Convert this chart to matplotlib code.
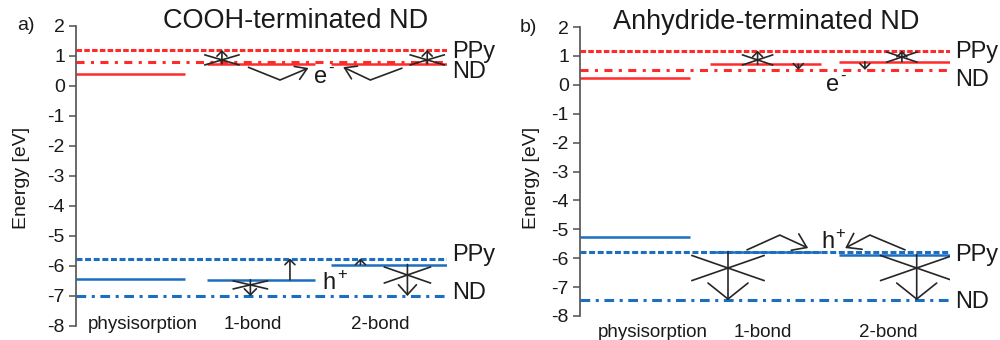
import matplotlib
matplotlib.use("Agg")
import matplotlib.pyplot as plt

plt.rcParams['font.family'] = ['Liberation Sans', 'DejaVu Sans']
plt.rcParams['lines.scale_dashes'] = False
plt.rcParams['axes.unicode_minus'] = False

# ---- energy levels (eV) ----
categories = ['physisorption', '1-bond', '2-bond']

# a) COOH-terminated ND
a_ppy_lumo = 1.2
a_nd_lumo = 0.8
a_ppy_homo = -5.75
a_nd_homo = -7.0
a_lumo = [0.4, 0.74, 0.74]
a_homo = [-6.42, -6.46, -5.95]

# b) Anhydride-terminated ND
b_ppy_lumo = 1.18
b_nd_lumo = 0.52
b_ppy_homo = -5.8
b_nd_homo = -7.45
b_lumo = [0.22, 0.71, 0.8]
b_homo = [-5.25, -5.77, -5.88]

yticks = list(range(-8, 3))

RED = '#ff2b2b'
BLUE = '#1c6fc0'
INK = '#262626'
TXT = '#1a1a1a'
SPINE = '#505050'

DASHED = (0, (4.0, 1.6))
DASHDOT_R = (0, (5.8, 4.6, 2.2, 4.6))
DASHED_B = (0, (4.3, 1.9))
DASHDOT_B = (0, (7.0, 4.0, 2.2, 4.0))

fig = plt.figure(figsize=(10, 3.4), dpi=100)
W, H = 1000, 340


def make_axes(x0, x1, ytop, ybot):
    ax = fig.add_axes([x0 / W, 1 - ybot / H, (x1 - x0) / W, (ybot - ytop) / H])
    ax.set_xlim(0, 3)
    ax.set_ylim(-8, 2)
    for s in ('top', 'right', 'bottom'):
        ax.spines[s].set_visible(False)
    ax.spines['left'].set_color(SPINE)
    ax.spines['left'].set_linewidth(1.2)
    ax.set_xticks([])
    ax.set_yticks(yticks)
    ax.tick_params(axis='y', direction='out', length=5, width=1.1,
                   color=SPINE, labelsize=14, labelcolor=TXT, pad=3)
    ax.set_ylabel('Energy [eV]', fontsize=14, color=TXT)
    ax.patch.set_alpha(0)
    return ax


def px_scale(ax):
    pos = ax.get_position()
    return (pos.width * W / 3.0, pos.height * H / 10.0)


def arrow(ax, x0, y0, x1, y1, hl_px, hw_px):
    style = '->,head_length=%.2f,head_width=%.2f' % (hl_px * 0.72, hw_px * 0.72)
    ax.annotate('', xy=(x1, y1), xytext=(x0, y0),
                arrowprops=dict(arrowstyle=style, color=INK, lw=1.2,
                                shrinkA=0, shrinkB=0, mutation_scale=1))


def cross(ax, x, y, hx_px, hy_px):
    sx, sy = px_scale(ax)
    dx, dy = hx_px / sx, hy_px / sy
    ax.plot([x - dx, x + dx], [y - dy, y + dy], color=INK, lw=1.2)
    ax.plot([x - dx, x + dx], [y + dy, y - dy], color=INK, lw=1.2)


def chevron(ax, p0, p1, p2, hl_px=10, hw_px=6):
    ax.plot([p0[0], p1[0]], [p0[1], p1[1]], color=INK, lw=1.2,
            solid_capstyle='butt')
    arrow(ax, p1[0], p1[1], p2[0], p2[1], hl_px, hw_px)


def draw_levels(ax, ppy_lumo, nd_lumo, ppy_homo, nd_homo, lumo, homo, spans):
    ax.axhline(ppy_lumo, color=RED, lw=2.2, ls=DASHED)
    ax.axhline(nd_lumo, color=RED, lw=2.2, ls=DASHDOT_R)
    ax.axhline(ppy_homo, color=BLUE, lw=2.2, ls=DASHED_B)
    ax.axhline(nd_homo, color=BLUE, lw=2.2, ls=DASHDOT_B)
    for (s, e), lu, ho in zip(spans, lumo, homo):
        ax.plot([s, e], [lu, lu], color=RED, lw=1.8, solid_capstyle='butt')
        ax.plot([s, e], [ho, ho], color=BLUE, lw=1.8, solid_capstyle='butt')


def side_labels(ax, ys):
    for txt, y in zip(['PPy', 'ND', 'PPy', 'ND'], ys):
        ax.text(3.04, y, txt, fontsize=17, color=TXT,
                ha='left', va='center', clip_on=False)


def carrier(ax, x, y, base, sup):
    # charge carrier symbol with a raised sign
    ax.annotate(base, xy=(x, y), xytext=(-2, 0), textcoords='offset points',
                fontsize=17, ha='center', va='center', color=TXT)
    ax.annotate(sup, xy=(x, y), xytext=(3.5, 6), textcoords='offset points',
                fontsize=12, ha='left', va='center', color=TXT)


# ================= a) =================
axa = make_axes(76, 447, 26, 326)
draw_levels(axa, a_ppy_lumo, a_nd_lumo, a_ppy_homo, a_nd_homo, a_lumo, a_homo,
            [(0.0, 0.88), (1.06, 1.93), (2.06, 3.0)])
axa.yaxis.set_label_coords(-0.124, 0.493)
for xc, lab in zip([0.54, 1.43, 2.46], categories):
    axa.text(xc, -7.95, lab, fontsize=13.5, ha='center', va='center',
             color=TXT, clip_on=False)
side_labels(axa, [1.12, 0.45, -5.62, -6.9])

# electron transfer (LUMO side)
arrow(axa, 1.18, a_lumo[1], 1.18, a_ppy_lumo, 5, 5)
cross(axa, 1.18, 0.87, 17, 5)
arrow(axa, 2.84, a_lumo[2], 2.84, a_ppy_lumo, 5, 5)
cross(axa, 2.84, 0.87, 17, 5)
chevron(axa, (1.39, 0.63), (1.65, 0.2), (1.88, 0.6), 11, 7)
chevron(axa, (2.64, 0.6), (2.38, 0.2), (2.16, 0.63), 11, 7)
carrier(axa, 2.0, 0.3, 'e', '-')

# hole transfer (HOMO side)
arrow(axa, 1.73, a_homo[1], 1.73, a_ppy_homo, 5, 5)
arrow(axa, 1.41, a_homo[1], 1.41, a_nd_homo, 6, 6)
cross(axa, 1.41, -6.63, 17, 4)
arrow(axa, 2.30, a_homo[2], 2.30, a_ppy_homo, 5, 5)
arrow(axa, 2.68, a_homo[2], 2.68, a_nd_homo, 10, 9)
cross(axa, 2.68, -6.3, 23, 8)
carrier(axa, 2.07, -6.57, 'h', '+')

fig.text(296 / W, 1 - 21 / H, 'COOH-terminated ND', fontsize=19.5,
         ha='center', va='center', color=TXT)
fig.text(26 / W, 1 - 25 / H, 'a)', fontsize=14, ha='center', va='center',
         color=TXT)

# ================= b) =================
axb = make_axes(580, 950, 27, 316)
draw_levels(axb, b_ppy_lumo, b_nd_lumo, b_ppy_homo, b_nd_homo, b_lumo, b_homo,
            [(0.0, 0.89), (1.05, 1.95), (2.1, 3.0)])
axb.yaxis.set_label_coords(-0.108, 0.478)
for xc, lab in zip([0.59, 1.48, 2.50], categories):
    axb.text(xc, -8.57, lab, fontsize=13.5, ha='center', va='center',
             color=TXT, clip_on=False)
side_labels(axb, [1.13, 0.17, -5.9, -7.5])

# electron transfer (LUMO side)
arrow(axb, 1.44, b_lumo[1], 1.44, b_ppy_lumo, 5, 5)
cross(axb, 1.44, 0.86, 15, 5)
arrow(axb, 1.77, b_lumo[1], 1.77, b_nd_lumo, 5, 5)
arrow(axb, 2.31, b_lumo[2], 2.31, b_nd_lumo, 5, 5)
arrow(axb, 2.61, b_lumo[2], 2.61, b_ppy_lumo, 5, 5)
cross(axb, 2.61, 0.96, 15, 5)
carrier(axb, 2.07, 0.0, 'e', '-')

# hole transfer (HOMO side)
arrow(axb, 1.20, b_homo[1], 1.20, b_nd_homo, 16, 20)
cross(axb, 1.20, -6.34, 36, 12.5)
arrow(axb, 2.73, b_homo[2], 2.73, b_nd_homo, 16, 20)
cross(axb, 2.73, -6.34, 36, 12.5)
chevron(axb, (1.35, -5.72), (1.62, -5.2), (1.85, -5.65), 13, 9)
chevron(axb, (2.64, -5.72), (2.35, -5.2), (2.15, -5.65), 13, 9)
carrier(axb, 2.03, -5.44, 'h', '+')

fig.text(766 / W, 1 - 22 / H, 'Anhydride-terminated ND', fontsize=19.5,
         ha='center', va='center', color=TXT)
fig.text(528 / W, 1 - 27 / H, 'b)', fontsize=14, ha='center', va='center',
         color=TXT)

fig.savefig('out.png', dpi=100, facecolor='white')
